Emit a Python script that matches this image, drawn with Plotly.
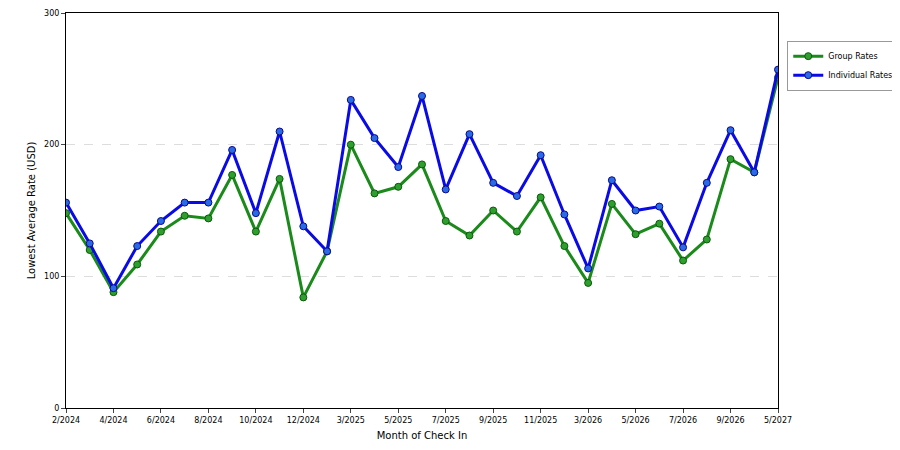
import plotly.graph_objects as go

months = ["2/2024", "3/2024", "4/2024", "5/2024", "6/2024", "7/2024", "8/2024", "9/2024",
          "10/2024", "11/2024", "12/2024", "2/2025", "3/2025", "4/2025", "5/2025", "6/2025",
          "7/2025", "8/2025", "9/2025", "10/2025", "11/2025", "12/2025", "3/2026", "4/2026",
          "5/2026", "6/2026", "7/2026", "8/2026", "9/2026", "10/2026", "5/2027"]
group_rates = [148, 120, 88, 109, 134, 146, 144, 177, 134, 174, 84, 119, 200, 163, 168, 185,
               142, 131, 150, 134, 160, 123, 95, 155, 132, 140, 112, 128, 189, 179, 251]
individual_rates = [156, 125, 91, 123, 142, 156, 156, 196, 148, 210, 138, 119, 234, 205, 183, 237,
                    166, 208, 171, 161, 192, 147, 106, 173, 150, 153, 122, 171, 211, 179, 257]
tick_labels = ["2/2024", "4/2024", "6/2024", "8/2024", "10/2024", "12/2024", "3/2025", "5/2025",
               "7/2025", "9/2025", "11/2025", "3/2026", "5/2026", "7/2026", "9/2026", "5/2027"]

fig = go.Figure()
fig.add_trace(go.Scatter(
    x=months, y=group_rates, name="Group Rates", mode="lines+markers",
    line=dict(color="#1a8a1a", width=3),
    marker=dict(color="#2e9e2e", size=7, line=dict(color="#0a5a0a", width=1)),
))
fig.add_trace(go.Scatter(
    x=months, y=individual_rates, name="Individual Rates", mode="lines+markers",
    line=dict(color="#0a0ae6", width=3),
    marker=dict(color="#2a6ae6", size=7, line=dict(color="#0a0a8a", width=1)),
))

fig.update_layout(
    width=900, height=450,
    margin=dict(l=58, r=130, t=5, b=50),
    plot_bgcolor="white", paper_bgcolor="white",
    font=dict(family="DejaVu Sans", size=8, color="black"),
    legend=dict(x=1.013, y=0.93, xanchor="left", yanchor="top",
                bordercolor="#999999", borderwidth=1, font=dict(size=8),
                traceorder="normal", itemwidth=30),
    xaxis=dict(
        type="category", categoryorder="array", categoryarray=months,
        tickvals=tick_labels, ticktext=tick_labels, ticks="outside", ticklen=4,
        showgrid=False, showline=True, linecolor="black", mirror=True,
        range=[0, len(months) - 1], automargin=False,
        title=dict(text="Month of Check In", standoff=8),
    ),
    yaxis=dict(
        range=[0, 300], tickvals=[0, 100, 200, 300], ticks="outside", ticklen=4,
        showgrid=True, gridcolor="#dddddd", griddash="dash",
        showline=True, linecolor="black", mirror=True, zeroline=False,
        automargin=False,
        title=dict(text="Lowest Average Rate (USD)", standoff=6),
    ),
)

fig.write_html("out.html")
